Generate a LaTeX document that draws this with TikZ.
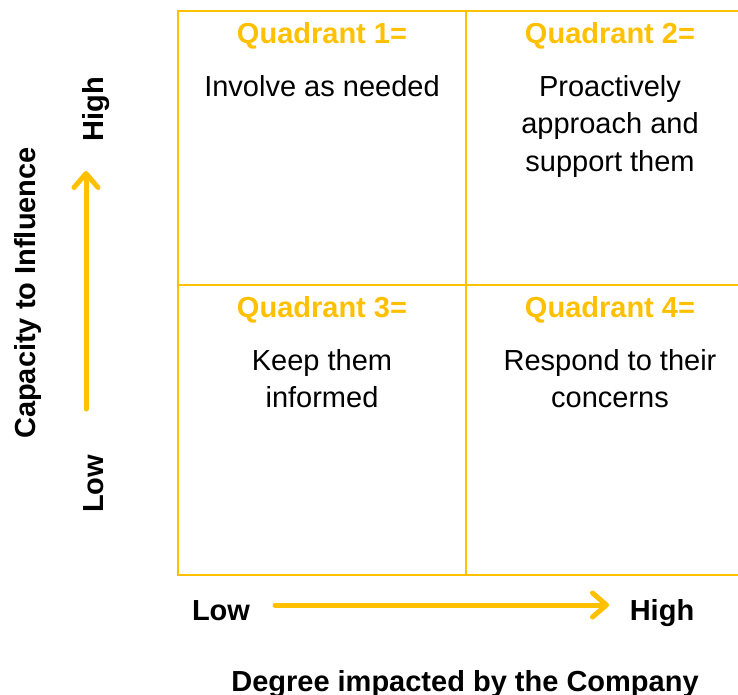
\documentclass[tikz,border=0pt]{standalone}
\usepackage{fontspec}
\setmainfont{Liberation Sans}
\usetikzlibrary{arrows.meta}
\definecolor{gold}{HTML}{FFC000}

\begin{document}
\begin{tikzpicture}[x=1bp,y=-1bp,
  gridline/.style={draw=gold,line width=2bp},
  quadtitle/.style={anchor=base,inner sep=0pt,text=gold,font=\fontsize{29bp}{37bp}\selectfont\bfseries},
  quadtext/.style={anchor=base,inner sep=0pt,align=center,font=\fontsize{29bp}{37bp}\selectfont},
  axislabel/.style={anchor=base,inner sep=0pt,font=\fontsize{29bp}{37bp}\selectfont\bfseries},
  axisarrow/.style={draw=gold,line width=5bp,line cap=round,-{Straight Barb[length=14bp,width=24bp,round]}}]
  \clip (0,0) rectangle (738,695);

  % Grade
  \draw[gridline] (178,11) rectangle (754,575);
  \draw[gridline] (466,11) to (466,575);
  \draw[gridline] (178,284.7) to (754,284.7);

  % Quadrantes (base = ultima linha)
  \node[quadtitle] (Titulo1) at (322,43.5) {Quadrant 1=};
  \node[quadtext] (Texto1) at (322,97) {Involve as needed};

  \node[quadtitle] (Titulo2) at (610,43.5) {Quadrant 2=};
  \node[quadtext] (Texto2) at (610,171) {Proactively\\approach and\\support them};

  \node[quadtitle] (Titulo3) at (322,317) {Quadrant 3=};
  \node[quadtext] (Texto3) at (322,407) {Keep them\\informed};

  \node[quadtitle] (Titulo4) at (610,317) {Quadrant 4=};
  \node[quadtext] (Texto4) at (610,407) {Respond to their\\concerns};

  % Eixo vertical
  \node[axislabel,rotate=90] (EixoY) at (35,293) {Capacity to Influence};
  \node[axislabel,rotate=90] (YAlto) at (103,109) {High};
  \node[axislabel,rotate=90] (YBaixo) at (103,484) {Low};
  \coordinate (YInicio) at (86,409);
  \coordinate (YFim) at (86,171);
  \draw[axisarrow] (YInicio) to (YFim);

  % Eixo horizontal
  \node[axislabel] (XBaixo) at (221,620) {Low};
  \node[axislabel] (XAlto) at (662,620) {High};
  \coordinate (XInicio) at (275,605);
  \coordinate (XFim) at (609,605);
  \draw[axisarrow] (XInicio) to (XFim);

  \node[axislabel] (EixoX) at (465,691) {Degree impacted by the Company};

\end{tikzpicture}
\end{document}
